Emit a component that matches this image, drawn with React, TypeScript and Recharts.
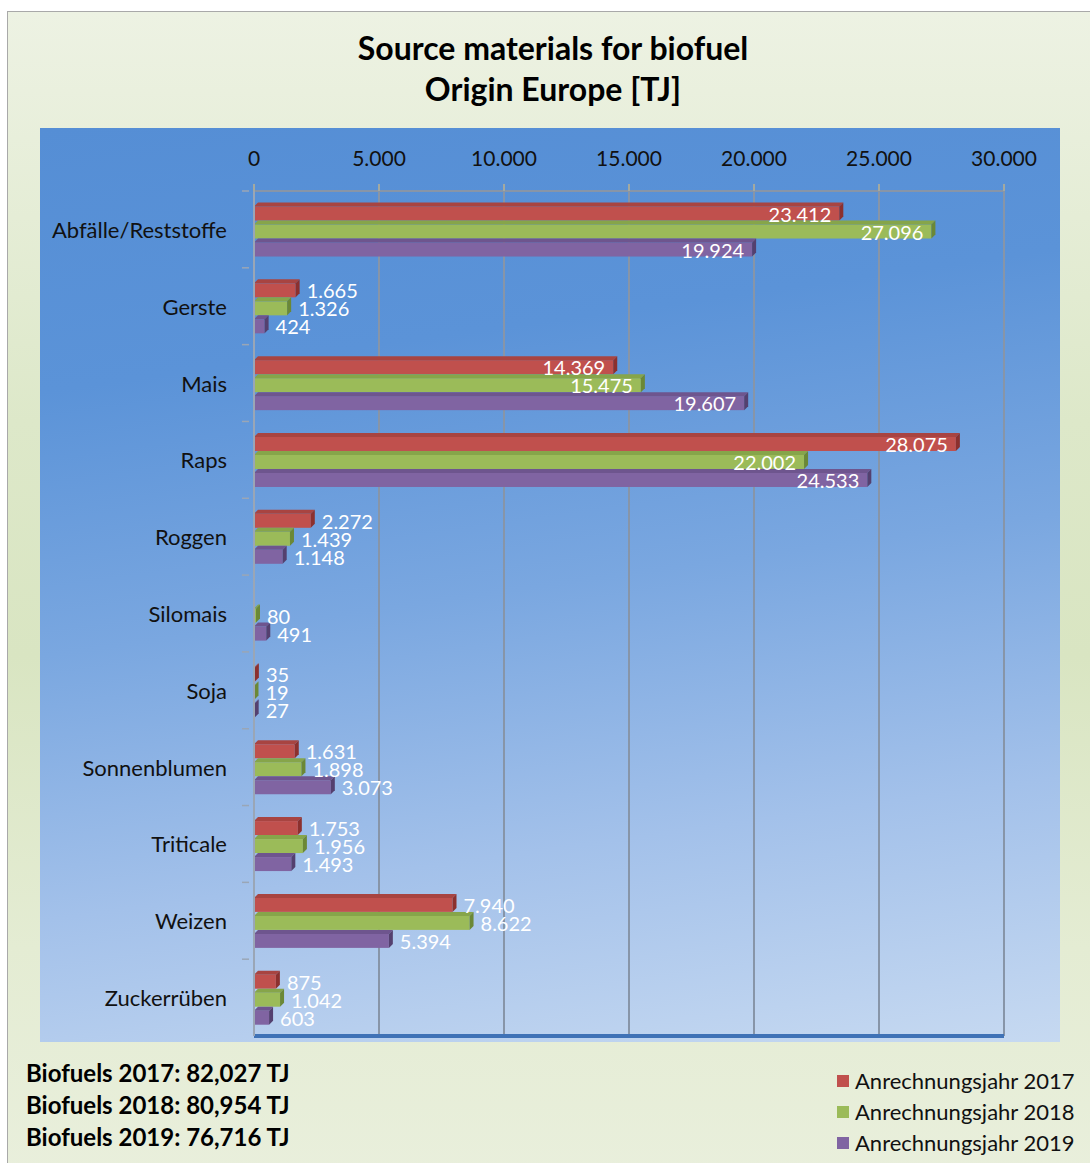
import React from 'react';
import { BarChart, Bar, XAxis, YAxis, CartesianGrid, LabelList } from 'recharts';

const categories = ['Abfälle/Reststoffe', 'Gerste', 'Mais', 'Raps', 'Roggen', 'Silomais', 'Soja', 'Sonnenblumen', 'Triticale', 'Weizen', 'Zuckerrüben'];
const year2017 = [23412, 1665, 14369, 28075, 2272, 0, 35, 1631, 1753, 7940, 875];
const year2018 = [27096, 1326, 15475, 22002, 1439, 80, 19, 1898, 1956, 8622, 1042];
const year2019 = [19924, 424, 19607, 24533, 1148, 491, 27, 3073, 1493, 5394, 603];
const xTicks = [0, 5000, 10000, 15000, 20000, 25000, 30000];
const totals = ['Biofuels 2017: 82,027 TJ', 'Biofuels 2018: 80,954 TJ', 'Biofuels 2019: 76,716 TJ'];

const SERIES = [
  { key: 'y2017', name: 'Anrechnungsjahr 2017', fill: '#c0504d', top: '#a84441', side: '#8c302e' },
  { key: 'y2018', name: 'Anrechnungsjahr 2018', fill: '#9bbb59', top: '#86a54a', side: '#6b8836' },
  { key: 'y2019', name: 'Anrechnungsjahr 2019', fill: '#8064a2', top: '#6e558e', side: '#54406f' },
];

const data = categories.map((name, i) => ({ name, y2017: year2017[i], y2018: year2018[i], y2019: year2019[i] }));

const FONT = 'Lato, "Open Sans", sans-serif';

// 12345 -> "12.345"
const fmt = (v: number) => String(v).replace(/\B(?=(\d{3})+(?!\d))/g, '.');

function makeShape(top: string, side: string) {
  return (props: any) => {
    const { x, y, width, height, fill } = props;
    if (!width || width <= 0) return null;
    const d = 4;
    return (
      <g>
        <rect x={x} y={y + d} width={width} height={height - d} fill={fill} />
        <polygon points={`${x},${y + d} ${x + d},${y} ${x + width + d},${y} ${x + width},${y + d}`} fill={top} />
        <polygon points={`${x + width},${y + d} ${x + width + d},${y} ${x + width + d},${y + height - d} ${x + width},${y + height}`} fill={side} />
      </g>
    );
  };
}

function ValueLabel(props: any) {
  const { x, y, width, height, value } = props;
  if (!value) return null;
  const inside = value > 10000;
  return (
    <text
      x={inside ? x + width - 8 : x + width + 11}
      y={y + height / 2 + 2}
      textAnchor={inside ? 'end' : 'start'}
      dominantBaseline="central"
      fill="#ffffff"
      fontSize={20}
      fontFamily={FONT}
    >
      {fmt(value)}
    </text>
  );
}

function CategoryTick(props: any) {
  const { x, y, payload } = props;
  const half = payload && payload.offset ? payload.offset : 0;
  return (
    <g>
      <text x={x} y={y} textAnchor="end" dominantBaseline="central" fontSize={22} fontFamily={FONT} fill="#111">
        {payload.value}
      </text>
      {half > 0 && <line x1={x + 15} x2={x + 22} y1={y - half} y2={y - half} stroke="#9aa6b6" strokeWidth={1.5} />}
    </g>
  );
}

export default function App() {
  return (
    <div style={{ position: 'absolute', left: 0, top: 0, width: 1090, height: 1163, background: '#fff', overflow: 'hidden', fontFamily: FONT }}>
      <div style={{
        position: 'absolute', left: 7, top: 11, width: 1100, height: 1170,
        border: '1.5px solid #a9a9a9',
        background: 'linear-gradient(180deg, #edf2e3 0%, #dde8c9 35%, #d9e5c2 55%, #e4ecd3 80%, #e9efdc 100%)',
      }} />
      <div style={{ position: 'absolute', left: 0, width: 1106, top: 27, textAlign: 'center', fontWeight: 700, fontSize: 32, lineHeight: '41px', color: '#000' }}>
        Source materials for biofuel<br />Origin Europe [TJ]
      </div>
      <div style={{
        position: 'absolute', left: 40, top: 128, width: 1020, height: 914,
        background: 'linear-gradient(172deg, #558ed5 0%, #5b93d8 25%, #7aa7e0 50%, #a3c1ea 75%, #c6d9f1 100%)',
      }} />
      <div style={{ position: 'absolute', left: 0, top: 0 }}>
        <BarChart
          width={1090}
          height={1163}
          data={data}
          layout="vertical"
          margin={{ top: 151, right: 86, bottom: 123, left: 54 }}
          barCategoryGap="15%"
          barGap={0}
        >
          <CartesianGrid horizontal={false} stroke="#8795a8" strokeWidth={2} />
          <XAxis
            type="number"
            orientation="top"
            domain={[0, 30000]}
            ticks={xTicks}
            tickFormatter={fmt}
            height={40}
            tickSize={7}
            tickMargin={18}
            axisLine={{ stroke: '#8795a8', strokeWidth: 2 }}
            tickLine={{ stroke: '#a3a9a0', strokeWidth: 2 }}
            tick={{ fontSize: 21, fontFamily: FONT, fill: '#111' }}
          />
          <XAxis
            xAxisId="floor"
            type="number"
            orientation="bottom"
            domain={[0, 30000]}
            height={4}
            tick={false}
            tickLine={false}
            axisLine={{ stroke: '#3f72b6', strokeWidth: 4 }}
          />
          <YAxis
            type="category"
            dataKey="name"
            width={200}
            tickSize={6}
            tickMargin={21}
            tickLine={false}
            axisLine={{ stroke: '#9aa6b6', strokeWidth: 2 }}
            tick={<CategoryTick />}
            interval={0}
          />
          {SERIES.map(s => (
            <Bar key={s.key} dataKey={s.key} name={s.name} fill={s.fill} shape={makeShape(s.top, s.side)} isAnimationActive={false}>
              <LabelList dataKey={s.key} content={<ValueLabel />} />
            </Bar>
          ))}
        </BarChart>
      </div>
      <div style={{ position: 'absolute', left: 26, top: 1057, fontWeight: 700, fontSize: 24, lineHeight: '32px', color: '#000' }}>
        {totals.map(t => <div key={t}>{t}</div>)}
      </div>
      <div style={{ position: 'absolute', left: 837, top: 1065, fontSize: 22, lineHeight: '31px', color: '#111' }}>
        {SERIES.map(s => (
          <div key={s.key} style={{ display: 'flex', alignItems: 'center' }}>
            <span style={{ display: 'inline-block', width: 12, height: 12, background: s.fill, marginRight: 6 }} />
            {s.name}
          </div>
        ))}
      </div>
    </div>
  );
}
